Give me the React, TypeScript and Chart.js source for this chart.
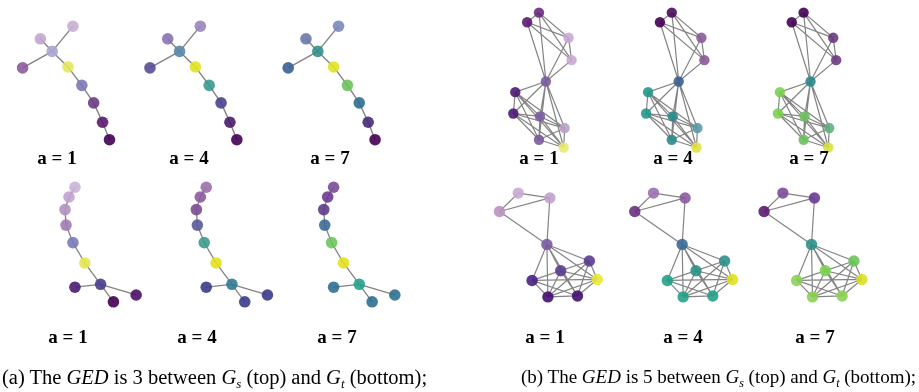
import React, { useEffect, useRef } from "react";
import { Chart, registerables } from "chart.js";
Chart.register(...registerables);

const W = 919;
const H = 392;

// ---- graph layouts (local layout units, == pixels of the first panel of each group)
const treeSX = [68, 35, 47, 17, 63, 77, 89, 98, 105];
const treeSY = [21, 34, 47, 64, 63, 82, 100, 120, 138];
const treeSEdges = [[0, 2], [1, 2], [2, 3], [2, 4], [4, 5], [5, 6], [6, 7], [7, 8]];

const treeTX = [70, 64, 60, 61, 68, 80, 96, 70, 109, 132];
const treeTY = [187, 197, 210, 226, 244, 265, 287, 290, 305, 298];
const treeTEdges = [[0, 1], [1, 2], [2, 3], [3, 4], [4, 5], [5, 6], [6, 7], [6, 8], [6, 9]];

const clusSX = [540, 528, 570, 573, 547, 516, 514, 541, 566, 540, 565];
const clusSY = [7, 17, 33, 56, 78, 89, 111, 114, 126, 138, 146];
const clusSEdges = [
  [0, 1], [0, 2], [0, 3], [1, 2], [1, 3], [2, 3], [0, 4], [1, 4], [2, 4], [3, 4],
  [4, 5], [4, 6], [4, 7], [4, 8], [4, 9], [4, 10],
  [5, 6], [5, 7], [5, 8], [5, 9], [5, 10], [6, 7], [6, 8], [6, 9], [6, 10],
  [7, 8], [7, 9], [7, 10], [8, 9], [8, 10], [9, 10],
];

const clusTX = [519, 551, 500, 548, 591, 562, 533, 599, 549, 579];
const clusTY = [193, 198, 212, 246, 263, 273, 283, 282, 300, 299];
const clusTEdges = [
  [0, 1], [0, 2], [1, 2], [1, 3], [2, 3],
  [3, 4], [3, 5], [3, 6], [3, 8], [3, 9], [3, 7],
  [4, 5], [4, 6], [4, 7], [4, 8], [4, 9], [5, 6], [5, 7], [5, 8], [5, 9],
  [6, 7], [6, 8], [6, 9], [7, 8], [7, 9], [8, 9],
];

// ---- panel shifts
const treeSOffsets = [0, 129, 269];
const treeTOffsets = [0, 133, 262];
const clusSOffsets = [0, 134.5, 268];
const clusTOffsets = [0, 137, 268];

// ---- node colours per panel (a = 1, 4, 7)
const treeSColors = [
  ["#c9aed4", "#c1a5cd", "#a9a6d3", "#8b5b9c", "#e5e55c", "#7b79b6", "#6b3b84", "#5b1b6f", "#440154"],
  ["#9b84be", "#8b72b1", "#5a87a9", "#5a4c98", "#e1e124", "#3b9a8d", "#4a4491", "#4a1c6b", "#440154"],
  ["#7a89b9", "#6b79a9", "#33908d", "#3a6195", "#e1e124", "#6bc45b", "#2f6f91", "#462b78", "#440154"],
];
const treeTColors = [
  ["#cbb1d7", "#c1a2cd", "#b192c1", "#a17cb3", "#7b7bb9", "#e6e64c", "#4b3b8d", "#4b1b71", "#440154", "#4b1169"],
  ["#9b6fab", "#8b5ba1", "#7b4b91", "#5b5b99", "#3b9b8d", "#e1e121", "#2f7b95", "#3b3b89", "#3b3b89", "#3b3b89"],
  ["#7b4b99", "#6b3b91", "#5b3b8b", "#3b6b95", "#6bc55b", "#e1e121", "#25a18b", "#2f6f91", "#2f6f91", "#2f6f91"],
];
const clusSColors = [
  ["#6b2b81", "#5b1b71", "#c9a9d1", "#c9a9d1", "#7b5ba1", "#4b1b71", "#4b1b71", "#7b5ba1", "#b9a1c9", "#7b5b9b", "#e9e971"],
  ["#4b0b5b", "#440154", "#8b5b9b", "#8b5b9b", "#3b6191", "#25978b", "#25978b", "#2b8b8b", "#5b9ba9", "#2b8b8b", "#e1e141"],
  ["#440154", "#440154", "#6b3b81", "#6b3b81", "#2b8b8b", "#7bd151", "#7bd151", "#6bc161", "#61b181", "#6bc161", "#d9e141"],
];
const clusTColors = [
  ["#c9a9d1", "#c1a1cd", "#b991c1", "#7b5ba1", "#5b3b91", "#5b3b91", "#4b2181", "#e9e931", "#451071", "#451071"],
  ["#9b71b1", "#8b5ba1", "#6b3181", "#3b6b95", "#2b9189", "#2b9189", "#23a189", "#e1e121", "#23a189", "#23a189"],
  ["#7b4b99", "#6b3b91", "#5b1b71", "#2b9189", "#6bc55b", "#7bd151", "#8bd151", "#d9e121", "#8bd151", "#8bd151"],
];

// ---- labels
const aValues = ["1", "4", "7"];
const labelTreeSX = [57, 189, 330];
const labelTreeTX = [68, 197, 337];
const labelClusSX = [539, 673, 809];
const labelClusTX = [545, 683, 815];
const labelTopY = 158;
const labelBotY = 337;

function withAlpha(hex: string, a: number) {
  const r = parseInt(hex.slice(1, 3), 16);
  const g = parseInt(hex.slice(3, 5), 16);
  const b = parseInt(hex.slice(5, 7), 16);
  return `rgba(${r},${g},${b},${a})`;
}

type Group = {
  xs: number[]; ys: number[]; edges: number[][]; offsets: number[]; colors: string[][];
  radius: number; edgeWidth: number;
};

const groups: Group[] = [
  { xs: treeSX, ys: treeSY, edges: treeSEdges, offsets: treeSOffsets, colors: treeSColors, radius: 5.8, edgeWidth: 1.4 },
  { xs: treeTX, ys: treeTY, edges: treeTEdges, offsets: treeTOffsets, colors: treeTColors, radius: 5.8, edgeWidth: 1.3 },
  { xs: clusSX, ys: clusSY, edges: clusSEdges, offsets: clusSOffsets, colors: clusSColors, radius: 5.2, edgeWidth: 1.2 },
  { xs: clusTX, ys: clusTY, edges: clusTEdges, offsets: clusTOffsets, colors: clusTColors, radius: 5.7, edgeWidth: 1.2 },
];

function buildDatasets() {
  const ds: any[] = [];
  groups.forEach((g) => {
    g.offsets.forEach((off, pi) => {
      const edgeData: any[] = [];
      g.edges.forEach(([a, b]) => {
        edgeData.push({ x: g.xs[a] + off, y: g.ys[a] });
        edgeData.push({ x: g.xs[b] + off, y: g.ys[b] });
        edgeData.push({ x: NaN, y: NaN });
      });
      ds.push({
        type: "scatter",
        data: edgeData,
        showLine: true,
        spanGaps: false,
        borderColor: "rgba(118,118,118,0.9)",
        borderWidth: g.edgeWidth,
        pointRadius: 0,
        fill: false,
        tension: 0,
        order: 2,
        clip: false,
      });
      ds.push({
        type: "scatter",
        data: g.xs.map((x, i) => ({ x: x + off, y: g.ys[i] })),
        pointRadius: g.radius,
        pointBorderWidth: 0,
        pointBackgroundColor: g.colors[pi].map((c) => withAlpha(c, 0.9)),
        showLine: false,
        order: 1,
        clip: false,
      });
    });
  });
  return ds;
}

export default function App() {
  const ref = useRef<HTMLCanvasElement>(null);
  useEffect(() => {
    if (!ref.current) return;
    const chart = new Chart(ref.current, {
      type: "scatter",
      data: { datasets: buildDatasets() },
      options: {
        responsive: false,
        maintainAspectRatio: false,
        animation: false,
        events: [],
        layout: { padding: 0 },
        plugins: { legend: { display: false }, tooltip: { enabled: false } },
        scales: {
          x: { type: "linear", min: 0, max: W, display: false },
          y: { type: "linear", min: 0, max: H, reverse: true, display: false },
        },
      },
    });
    return () => chart.destroy();
  }, []);

  const labelStyle = (x: number, y: number): React.CSSProperties => ({
    position: "absolute",
    left: x,
    top: y,
    transform: "translate(-50%, -50%)",
    fontFamily: "'Liberation Serif', 'Times New Roman', serif",
    fontWeight: "bold",
    fontSize: 19,
    whiteSpace: "nowrap",
    color: "#000",
  });
  const capStyle = (x: number, size: number): React.CSSProperties => ({
    position: "absolute",
    left: x,
    top: 377,
    transform: "translateY(-50%)",
    fontFamily: "'Liberation Serif', 'Times New Roman', serif",
    fontSize: size,
    whiteSpace: "nowrap",
    color: "#000",
    lineHeight: "22px",
  });
  const subStyle = (size: number): React.CSSProperties => ({ fontSize: size, verticalAlign: "-4px", lineHeight: 0 });

  return (
    <div style={{ position: "absolute", left: 0, top: 0, width: W, height: H, background: "#fff", overflow: "hidden" }}>
      <canvas ref={ref} width={W} height={H} style={{ position: "absolute", left: 0, top: 0 }} />
      {aValues.map((a, i) => (
        <div key={"ts" + i} style={labelStyle(labelTreeSX[i], labelTopY)}>a = {a}</div>
      ))}
      {aValues.map((a, i) => (
        <div key={"tt" + i} style={labelStyle(labelTreeTX[i], labelBotY)}>a = {a}</div>
      ))}
      {aValues.map((a, i) => (
        <div key={"cs" + i} style={labelStyle(labelClusSX[i], labelTopY)}>a = {a}</div>
      ))}
      {aValues.map((a, i) => (
        <div key={"ct" + i} style={labelStyle(labelClusTX[i], labelBotY)}>a = {a}</div>
      ))}
      <div style={capStyle(2, 20.5)}>
        (a) The <i>GED</i> is 3 between <i>G</i><span style={subStyle(13)}><i>s</i></span> (top) and <i>G</i><span style={subStyle(13)}><i>t</i></span> (bottom);
      </div>
      <div style={capStyle(521, 19)}>
        (b) The <i>GED</i> is 5 between <i>G</i><span style={subStyle(12)}><i>s</i></span> (top) and <i>G</i><span style={subStyle(12)}><i>t</i></span> (bottom);
      </div>
    </div>
  );
}
